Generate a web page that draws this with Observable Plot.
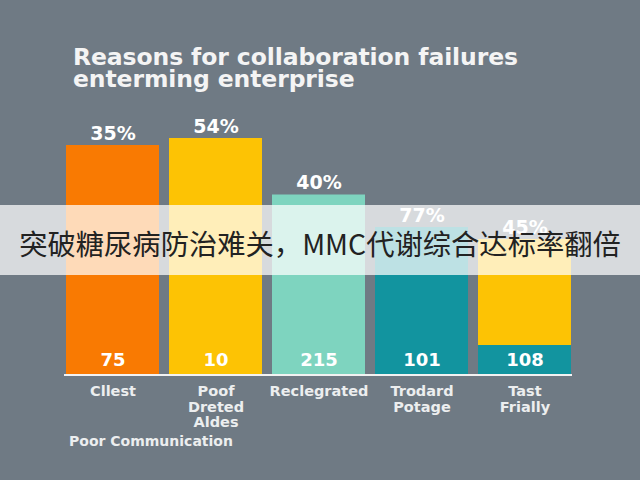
<!DOCTYPE html>
<html>
<head>
<meta charset="utf-8">
<script src="https://cdn.jsdelivr.net/npm/d3@7"></script>
<script src="https://cdn.jsdelivr.net/npm/@observablehq/plot@0.6"></script>
<style>
  html, body { margin: 0; padding: 0; }
  body { width: 640px; height: 480px; overflow: hidden; position: relative; background: #6f7a84; font-family: "DejaVu Sans", sans-serif; }
  #title { position: absolute; top: 46px; left: 73px; color: #f4f4f4; font-weight: bold; font-size: 23.5px; line-height: 22px; letter-spacing: -0.1px; margin: 0; }
  #chart { position: absolute; top: 100px; left: 0; }
  #banner { position: absolute; top: 205px; left: 0; width: 640px; height: 70px; background: rgba(255,255,255,0.72); text-align: center; }
  #banner span { display: inline-block; font-family: "Noto Sans CJK SC", sans-serif; font-size: 28.3px; line-height: 70px; color: #222; transform: translateY(3px); white-space: nowrap; }
</style>
</head>
<body>
<div id="title">Reasons for collaboration failures<br>enterming enterprise</div>
<div id="chart"></div>
<div id="banner"><span>突破糖尿病防治难关，MMC代谢综合达标率翻倍</span></div>
<script>
const categories = ["Cllest", "Poof\nDreted\nAldes", "Reclegrated", "Trodard\nPotage", "Tast\nFrially"];
const barHeights = [91.8, 94.6, 72, 59, 54.2];
const percentLabels = ["35%", "54%", "40%", "77%", "45%"];
const countLabels = ["75", "10", "215", "101", "108"];
const baseSegments = [0, 0, 0, 0, 11.8];
const axisNote = "Poor Communication";

const barColors = ["#f97a02", "#fdc304", "#7ed4bf", "#12949f", "#fdc304"];
const baseColor = "#12949f";

const bars = categories.map((c, i) => ({
  cat: c, h: barHeights[i], pct: percentLabels[i], count: countLabels[i], base: baseSegments[i]
}));

const chart = Plot.plot({
  width: 640,
  height: 380,
  marginLeft: 64,
  marginRight: 68,
  marginTop: 24.5,
  marginBottom: 105.5,
  style: { background: "transparent", fontFamily: "DejaVu Sans" },
  x: { type: "band", domain: categories, paddingInner: 0.1, paddingOuter: 0 },
  y: { domain: [0, 100], axis: null },
  color: { type: "ordinal", domain: categories, range: barColors },
  marks: [
    Plot.barY(bars, { x: "cat", y: "h", fill: "cat" }),
    Plot.barY(bars.filter(d => d.base > 0), { x: "cat", y: "base", fill: baseColor }),
    Plot.ruleY([0], { stroke: "#f2f2f2", strokeWidth: 2 }),
    Plot.text(bars, { x: "cat", y: "h", text: "pct", dy: -12, lineAnchor: "middle", fill: "white", fontSize: 19, fontWeight: "bold" }),
    Plot.text(bars, { x: "cat", y: 0, text: "count", dy: -14.5, lineAnchor: "middle", fill: "white", fontSize: 18, fontWeight: "bold" }),
    Plot.axisX({ tickSize: 0, tickPadding: 10, label: null, fontSize: 14.5, fontWeight: "bold", fill: "#eceeef", lineHeight: 1.07 }),
    Plot.text([axisNote], { frameAnchor: "bottom-left", text: d => d, dx: 4.5, dy: 66.5, textAnchor: "start", lineAnchor: "middle", fill: "#eceeef", fontSize: 14, fontWeight: "bold" })
  ]
});
document.getElementById("chart").appendChild(chart);
</script>
</body>
</html>
